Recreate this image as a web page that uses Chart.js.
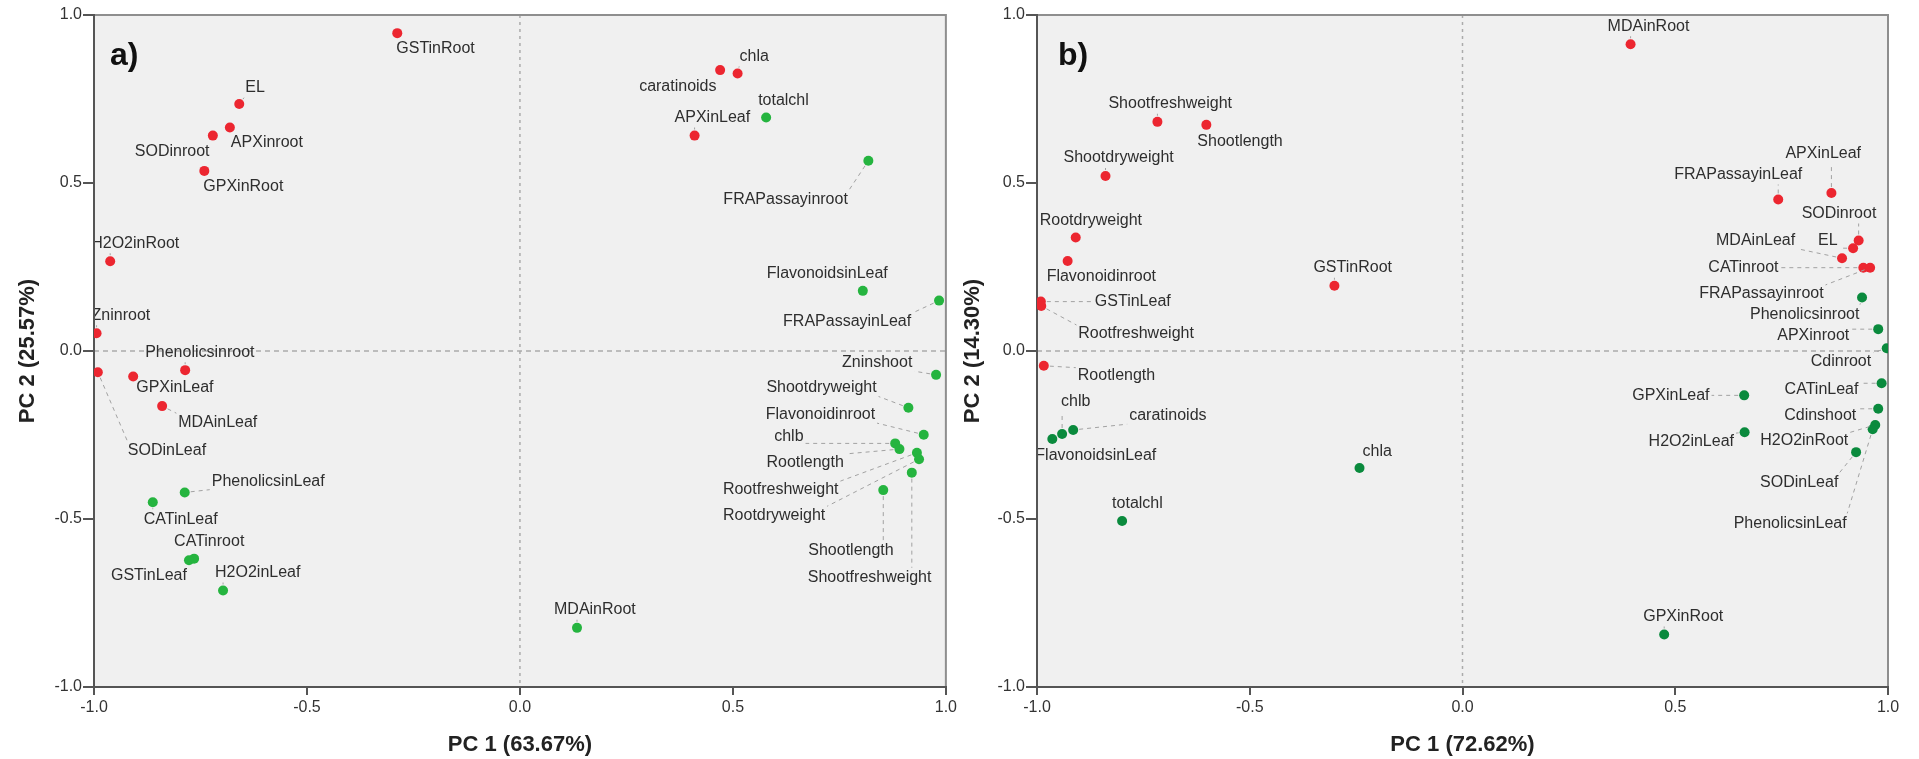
<!DOCTYPE html>
<html>
<head>
<meta charset="utf-8">
<script src="https://cdn.jsdelivr.net/npm/chart.js@4.4.1/dist/chart.umd.min.js"></script>
<style>
  html, body { margin: 0; padding: 0; background: #ffffff; }
  #wrap { position: relative; width: 1919px; height: 759px; overflow: hidden; }
  canvas { position: absolute; top: 0; }
</style>
</head>
<body>
<div id="wrap">
  <canvas id="chartA" width="960" height="759" style="left:0;width:960px;height:759px"></canvas>
  <canvas id="chartB" width="959" height="759" style="left:960px;width:959px;height:759px"></canvas>
</div>
<script>
// ---------------- DATA ----------------
// Axis titles
const aTitleX = 'PC 1 (63.67%)';
const aTitleY = 'PC 2 (25.57%)';
const bTitleX = 'PC 1 (72.62%)';
const bTitleY = 'PC 2 (14.30%)';
const tickValues = [-1.0, -0.5, 0.0, 0.5, 1.0];

// Panel a) – red group
const aRedNames = ['GSTinRoot','EL','APXinroot','SODinroot','GPXinRoot','H2O2inRoot','Zninroot',
  'Phenolicsinroot','SODinLeaf','GPXinLeaf','MDAinLeaf','caratinoids','chla','APXinLeaf'];
const aRedPC1 = [-0.288,-0.659,-0.681,-0.721,-0.741,-0.962,-0.994,-0.786,-0.991,-0.908,-0.840,0.470,0.511,0.410];
const aRedPC2 = [0.946,0.735,0.665,0.641,0.536,0.267,0.053,-0.057,-0.063,-0.076,-0.164,0.836,0.826,0.641];

// Panel a) – green group
const aGreenNames = ['totalchl','FRAPassayinroot','FlavonoidsinLeaf','FRAPassayinLeaf','Zninshoot',
  'Shootdryweight','Flavonoidinroot','chlb','Rootlength','Rootfreshweight','Rootdryweight',
  'Shootfreshweight','Shootlength','MDAinRoot','PhenolicsinLeaf','CATinLeaf','CATinroot','GSTinLeaf','H2O2inLeaf'];
const aGreenPC1 = [0.578,0.818,0.805,0.984,0.977,0.912,0.948,0.881,0.891,0.932,0.937,0.920,0.853,0.134,-0.787,-0.862,-0.765,-0.777,-0.697];
const aGreenPC2 = [0.695,0.566,0.179,0.150,-0.071,-0.169,-0.249,-0.275,-0.292,-0.303,-0.322,-0.362,-0.414,-0.824,-0.421,-0.450,-0.618,-0.623,-0.713];

// Panel b) – red group
const bRedNames = ['MDAinRoot','Shootfreshweight','Shootlength','Shootdryweight','Rootdryweight',
  'Flavonoidinroot','GSTinLeaf','Rootfreshweight','GSTinRoot','Rootlength','APXinLeaf',
  'FRAPassayinLeaf','SODinroot','EL','MDAinLeaf','CATinroot','FRAPassayinroot'];
const bRedPC1 = [0.395,-0.717,-0.602,-0.839,-0.909,-0.928,-0.991,-0.990,-0.301,-0.984,0.867,0.742,0.931,0.918,0.892,0.942,0.958];
const bRedPC2 = [0.913,0.682,0.673,0.521,0.338,0.268,0.147,0.134,0.194,-0.044,0.470,0.451,0.329,0.306,0.276,0.248,0.248];

// Panel b) – green group
const bGreenNames = ['Phenolicsinroot','APXinroot','Cdinroot','CATinLeaf','GPXinLeaf','Cdinshoot',
  'H2O2inLeaf','H2O2inRoot','PhenolicsinLeaf','SODinLeaf','GPXinRoot','chlb','caratinoids',
  'FlavonoidsinLeaf','chla','totalchl'];
const bGreenPC1 = [0.939,0.977,0.997,0.985,0.662,0.977,0.663,0.970,0.964,0.925,0.474,-0.941,-0.915,-0.964,-0.242,-0.800];
const bGreenPC2 = [0.159,0.065,0.008,-0.096,-0.132,-0.172,-0.242,-0.220,-0.233,-0.301,-0.844,-0.247,-0.235,-0.262,-0.348,-0.506];

// ---------------- LAYOUT (label placement, px relative to point) ----------------
const labelOffsetsA = {
  GSTinRoot:[-1,15], EL:[6,-16], APXinroot:[1,15], SODinroot:[-78,16], GPXinRoot:[-1,16],
  H2O2inRoot:[-19,-18], Zninroot:[-5,-18], Phenolicsinroot:[-40,-18], SODinLeaf:[30,78],
  GPXinLeaf:[3,11], MDAinLeaf:[16,16], caratinoids:[-81,16], chla:[2,-17], APXinLeaf:[-20,-18],
  totalchl:[-8,-17], FRAPassayinroot:[-145,39], FlavonoidsinLeaf:[-96,-17], FRAPassayinLeaf:[-156,21],
  Zninshoot:[-94,-12], Shootdryweight:[-142,-20], Flavonoidinroot:[-158,-20], chlb:[-121,-7],
  Rootlength:[-133,13], Rootfreshweight:[-194,37], Rootdryweight:[-196,56], Shootfreshweight:[-104,105],
  Shootlength:[-75,60], MDAinRoot:[-23,-18], PhenolicsinLeaf:[27,-11], CATinLeaf:[-9,17],
  CATinroot:[-20,-17], GSTinLeaf:[-78,15], H2O2inLeaf:[-8,-18]
};
const labelOffsetsB = {
  MDAinRoot:[-23,-18], Shootfreshweight:[-49,-18], Shootlength:[-9,17], Shootdryweight:[-42,-18],
  Rootdryweight:[-36,-17], Flavonoidinroot:[-21,16], GSTinLeaf:[54,0], Rootfreshweight:[37,28],
  GSTinRoot:[-21,-18], Rootlength:[34,10], APXinLeaf:[-46,-39], FRAPassayinLeaf:[-104,-25],
  SODinroot:[-57,-27], EL:[-35,-8], MDAinLeaf:[-126,-18], CATinroot:[-155,0], FRAPassayinroot:[-171,26],
  Phenolicsinroot:[-112,17], APXinroot:[-101,6], Cdinroot:[-76,13], CATinLeaf:[-97,6], GPXinLeaf:[-112,0],
  Cdinshoot:[-94,7], H2O2inLeaf:[-96,9], H2O2inRoot:[-115,16], PhenolicsinLeaf:[-139,94],
  SODinLeaf:[-96,30], GPXinRoot:[-21,-18], chlb:[-1,-32], caratinoids:[56,-14],
  FlavonoidsinLeaf:[-17,17], chla:[3,-16], totalchl:[-10,-17]
};

// ---------------- RENDERING ----------------
const FONT = '"Liberation Sans", Arial, Helvetica, sans-serif';
Chart.defaults.font.family = FONT;

const RED = '#EC2630';
const GREEN_A = '#25B43F';
const GREEN_B = '#0A8A3D';

function toPoints(xs, ys) { return xs.map((x, i) => ({ x: x, y: ys[i] })); }

const panelPlugin = {
  id: 'panelDecor',
  beforeDraw(chart, args, opts) {
    const ctx = chart.ctx, ca = chart.chartArea;
    const xs = chart.scales.x, ys = chart.scales.y;
    ctx.save();
    ctx.fillStyle = '#F0F0F0';
    ctx.fillRect(ca.left, ca.top, ca.right - ca.left, ca.bottom - ca.top);
    const x0 = xs.getPixelForValue(0), y0 = ys.getPixelForValue(0);
    ctx.strokeStyle = '#ababab';
    ctx.lineWidth = 1.5;
    ctx.setLineDash([5, 4]);
    ctx.beginPath(); ctx.moveTo(ca.left, y0); ctx.lineTo(ca.right, y0); ctx.stroke();
    ctx.setLineDash([3, 4]);
    ctx.beginPath(); ctx.moveTo(x0, ca.top); ctx.lineTo(x0, ca.bottom); ctx.stroke();
    ctx.setLineDash([]);
    ctx.strokeStyle = '#8e8e8e';
    ctx.lineWidth = 2;
    ctx.beginPath();
    ctx.moveTo(ca.left, ca.top); ctx.lineTo(ca.right, ca.top); ctx.lineTo(ca.right, ca.bottom);
    ctx.stroke();
    ctx.restore();
  },
  afterDatasetsDraw(chart, args, opts) {
    const ctx = chart.ctx, ca = chart.chartArea;
    ctx.save();
    ctx.beginPath();
    ctx.rect(ca.left + 1, ca.top, ca.right - ca.left - 1, ca.bottom - ca.top - 1);
    ctx.clip();
    ctx.font = '16px ' + FONT;
    ctx.textBaseline = 'middle';
    ctx.textAlign = 'left';
    chart.data.datasets.forEach((ds, di) => {
      const meta = chart.getDatasetMeta(di);
      meta.data.forEach((pt, i) => {
        const name = ds.names[i];
        const off = opts.offsets[name] || [6, -16];
        const px = pt.x, py = pt.y;
        const tx = px + off[0], ty = py + off[1];
        const w = ctx.measureText(name).width;
        const bx = Math.min(Math.max(px, tx), tx + w);
        const by = Math.min(Math.max(py, ty - 8), ty + 8);
        const dx = bx - px, dy = by - py;
        const d = Math.hypot(dx, dy);
        if (d > 9) {
          ctx.strokeStyle = '#a2a2a2';
          ctx.lineWidth = 1;
          ctx.setLineDash([4, 4]);
          ctx.beginPath();
          ctx.moveTo(px + dx / d * 6, py + dy / d * 6);
          ctx.lineTo(bx - dx / d * 2, by - dy / d * 2);
          ctx.stroke();
          ctx.setLineDash([]);
        }
        ctx.fillStyle = '#2e2e2e';
        ctx.fillText(name, tx, ty);
      });
    });
    ctx.restore();
    // panel letter
    ctx.save();
    ctx.font = 'bold 32px ' + FONT;
    ctx.fillStyle = '#111111';
    ctx.textBaseline = 'alphabetic';
    ctx.textAlign = 'left';
    ctx.fillText(opts.panel, ca.left + opts.panelDx, ca.top + 50);
    ctx.restore();
  }
};

function makeChart(canvasId, redNames, redX, redY, greenNames, greenX, greenY, greenColor,
                   titleX, titleY, offsets, panel, panelDx, yWidth, rightPad, yTitlePad) {
  return new Chart(document.getElementById(canvasId), {
    type: 'scatter',
    data: {
      datasets: [
        { names: redNames, data: toPoints(redX, redY), backgroundColor: RED, borderColor: RED,
          pointRadius: 5, pointHoverRadius: 5, borderWidth: 0 },
        { names: greenNames, data: toPoints(greenX, greenY), backgroundColor: greenColor, borderColor: greenColor,
          pointRadius: 5, pointHoverRadius: 5, borderWidth: 0 }
      ]
    },
    options: {
      responsive: false,
      animation: false,
      devicePixelRatio: 1,
      events: [],
      layout: { padding: { left: 0, right: rightPad, top: 15, bottom: 0 } },
      plugins: {
        legend: { display: false },
        tooltip: { enabled: false },
        panelDecor: { offsets: offsets, panel: panel, panelDx: panelDx }
      },
      scales: {
        x: {
          type: 'linear', min: -1, max: 1,
          afterBuildTicks: (s) => { s.ticks = tickValues.map(v => ({ value: v })); },
          afterFit: (s) => { s.height = 72; },
          ticks: { callback: (v) => Number(v).toFixed(1), color: '#333333', font: { size: 16 },
                   padding: 3, maxRotation: 0, autoSkip: false },
          grid: { drawOnChartArea: false, drawTicks: true, tickLength: 8, tickColor: '#555555',
                  tickWidth: 2, lineWidth: 2, color: '#555555' },
          border: { display: true, color: '#555555', width: 2 },
          title: { display: true, text: titleX, color: '#222222',
                   font: { size: 22, weight: 'bold' }, padding: { top: 0, bottom: 1 } }
        },
        y: {
          type: 'linear', min: -1, max: 1,
          afterBuildTicks: (s) => { s.ticks = tickValues.map(v => ({ value: v })); },
          afterFit: (s) => { s.width = yWidth; },
          ticks: { callback: (v) => Number(v).toFixed(1), color: '#333333', font: { size: 16 },
                   padding: 1, autoSkip: false },
          grid: { drawOnChartArea: false, drawTicks: true, tickLength: 11, tickColor: '#555555',
                  tickWidth: 2, lineWidth: 2, color: '#555555' },
          border: { display: true, color: '#555555', width: 2 },
          title: { display: true, text: titleY, color: '#222222',
                   font: { size: 22, weight: 'bold' }, padding: { top: yTitlePad, bottom: 0 } }
        }
      }
    },
    plugins: [panelPlugin]
  });
}

makeChart('chartA', aRedNames, aRedPC1, aRedPC2, aGreenNames, aGreenPC1, aGreenPC2, GREEN_A,
          aTitleX, aTitleY, labelOffsetsA, 'a)', 16, 94, 14, 15);
makeChart('chartB', bRedNames, bRedPC1, bRedPC2, bGreenNames, bGreenPC1, bGreenPC2, GREEN_B,
          bTitleX, bTitleY, labelOffsetsB, 'b)', 21, 77, 31, 0);
</script>
</body>
</html>
